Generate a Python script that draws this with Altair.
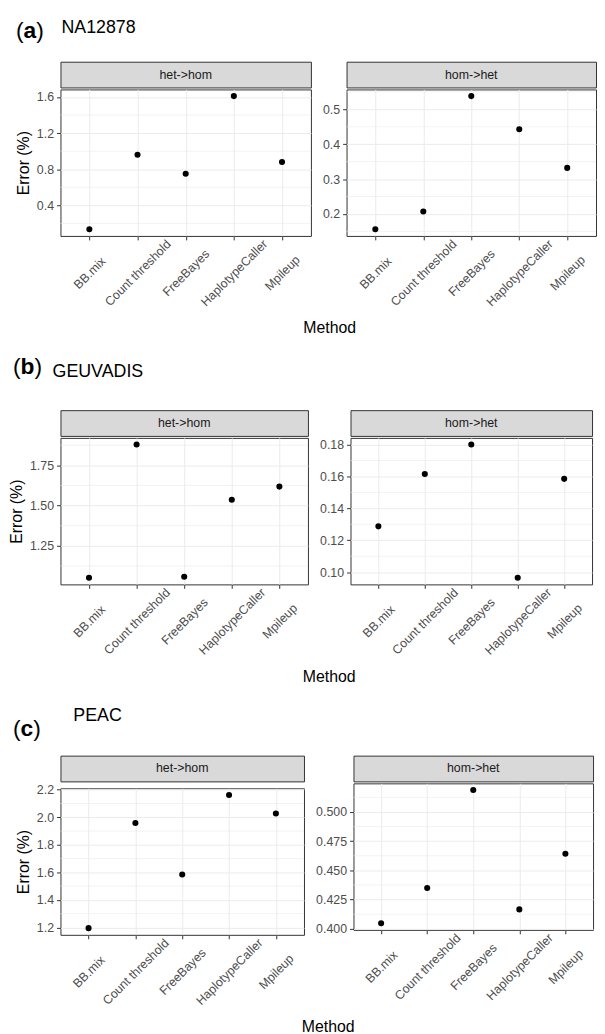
import altair as alt
import pandas as pd

FONT = "Liberation Sans"

methods = ["BB.mix", "Count threshold", "FreeBayes", "HaplotypeCaller", "Mpileup"]

# (a) NA12878
a_het_hom = [0.135, 0.96, 0.75, 1.61, 0.88]
a_hom_het = [0.156, 0.207, 0.538, 0.443, 0.332]
# (b) GEUVADIS
b_het_hom = [1.052, 1.879, 1.058, 1.536, 1.618]
b_hom_het = [0.1287, 0.1615, 0.180, 0.0965, 0.1585]
# (c) PEAC
c_het_hom = [1.195, 1.959, 1.585, 2.162, 2.027]
c_hom_het = [0.4048, 0.435, 0.5188, 0.4166, 0.4642]

a_left_ticks = [0.4, 0.8, 1.2, 1.6]
a_right_ticks = [0.2, 0.3, 0.4, 0.5]
b_left_ticks = [1.25, 1.50, 1.75]
b_right_ticks = [0.10, 0.12, 0.14, 0.16, 0.18]
c_left_ticks = [1.2, 1.4, 1.6, 1.8, 2.0, 2.2]
c_right_ticks = [0.400, 0.425, 0.450, 0.475, 0.500]

strip_labels = ["het->hom", "hom->het"]


def panel(values, strip_label, ticks, fmt, width, ytitle, height=148):
    df = pd.DataFrame({"Method": methods, "Error": values})
    lo, hi = min(values), max(values)
    pad = 0.05 * (hi - lo)
    domain = [lo - pad, hi + pad]
    step = ticks[1] - ticks[0]
    minors = [t - step / 2 for t in ticks] + [ticks[-1] + step / 2]
    minors = [m for m in minors if domain[0] <= m <= domain[1]]
    yscale = alt.Scale(domain=domain, nice=False, zero=False)
    xscale = alt.Scale(type="point", padding=0.6, domain=methods)

    yaxis = alt.Axis(values=ticks, format=fmt, title=ytitle if ytitle else "",
                     labelOverlap=False)

    minor = alt.Chart(pd.DataFrame({"Error": minors})).mark_rule(
        color="#ebebeb", strokeWidth=0.6
    ).encode(y=alt.Y("Error:Q", scale=yscale, axis=yaxis))

    pts = alt.Chart(df).mark_point(filled=True, color="black", size=38, opacity=1).encode(
        x=alt.X("Method:N", scale=xscale, sort=methods,
                axis=alt.Axis(title="", labelOverlap=False)),
        y=alt.Y("Error:Q", scale=yscale, axis=yaxis),
    )
    plot = alt.layer(minor, pts).properties(
        width=width, height=height,
        view=alt.ViewBackground(fill="white", stroke="#333333", strokeWidth=1),
    )
    strip = alt.Chart(pd.DataFrame({"s": [strip_label]})).mark_text(
        fontSize=12.5, color="#1a1a1a", font=FONT
    ).encode(text="s:N").properties(
        width=width, height=26,
        view=alt.ViewBackground(fill="#d9d9d9", stroke="#333333", strokeWidth=1),
    )
    return alt.vconcat(strip, plot, spacing=0)


def row(left_vals, right_vals, lt, rt, lfmt, rfmt, wl, wr, dx):
    left = panel(left_vals, strip_labels[0], lt, lfmt, wl, "Error (%)")
    right = panel(right_vals, strip_labels[1], rt, rfmt, wr, None)
    return alt.hconcat(left, right, spacing=10).properties(
        title=alt.TitleParams(
            "Method", orient="bottom", anchor="middle", offset=12, dx=dx,
            fontSize=16, fontWeight="normal", color="black", font=FONT,
        )
    )


def heading(letter, name, h, xl, yl, xn, yn, big=23, small=18, wletter=0.556):
    base = alt.Chart(pd.DataFrame({"k": [0]}))
    common = dict(align="left", baseline="alphabetic", font=FONT, color="black")
    op = base.mark_text(text="(", fontSize=big, **common).encode(
        x=alt.value(xl), y=alt.value(yl))
    le = base.mark_text(text=letter, fontSize=big, fontWeight="bold", **common).encode(
        x=alt.value(xl + 0.333 * big), y=alt.value(yl))
    cl = base.mark_text(text=")", fontSize=big, **common).encode(
        x=alt.value(xl + 0.333 * big + wletter * big), y=alt.value(yl))
    nm = base.mark_text(text=name, fontSize=small, **common).encode(
        x=alt.value(xn), y=alt.value(yn))
    return alt.layer(op, le, cl, nm).properties(
        width=200, height=h,
        view=alt.ViewBackground(fill="transparent", stroke="transparent"),
    )


hA = heading("a", "NA12878", 40, -45, 18, 1, 13)
rowA = row(a_het_hom, a_hom_het, a_left_ticks, a_right_ticks, ".1f", ".1f", 253, 252, 24)
hB = heading("b", "GEUVADIS", 71, -48, 36, -8, 39, wletter=0.611)
rowB = row(b_het_hom, b_hom_het, b_left_ticks, b_right_ticks, ".2f", ".2f", 250, 244, 29)
hC = heading("c", "PEAC", 68, -48, 50, 13, 35)
rowC = row(c_het_hom, c_hom_het, c_left_ticks, c_right_ticks, ".1f", ".3f", 246, 242, 24)

chart = alt.vconcat(hA, rowA, hB, rowB, hC, rowC, spacing=0).properties(
    padding={"left": 0, "top": 5, "right": 0, "bottom": 0}
).configure(font=FONT).configure_axis(
    labelFont=FONT, titleFont=FONT, labelFontSize=12.5, labelColor="#4d4d4d",
    titleFontSize=16, titleFontWeight="normal", titleColor="black",
    tickColor="#333333", tickSize=4, tickWidth=1, domain=False,
    gridColor="#ebebeb", gridWidth=1, grid=True,
).configure_axisX(
    labelAngle=-45, labelAlign="center", labelBaseline="middle", labelPadding=33,
).configure_axisY(
    labelPadding=3, titlePadding=5, labelOverlap=False,
)

chart.save("out.html", embed_options={"renderer": "svg", "actions": False})
